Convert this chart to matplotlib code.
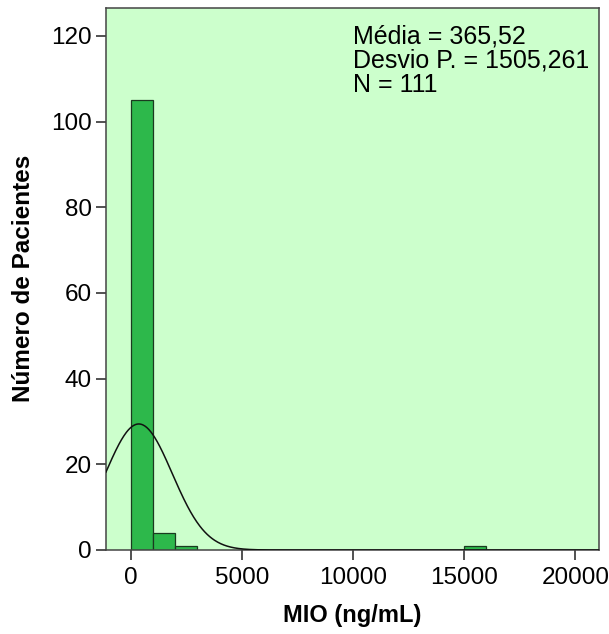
import numpy as np
import matplotlib
matplotlib.use("Agg")
import matplotlib.pyplot as plt

plt.rcParams['font.family'] = ['Liberation Sans', 'DejaVu Sans']

# Histogram bins (left edges, ng/mL) and patient counts
bin_lefts = [0, 1000, 2000, 15000]
bin_width = 1000
counts = [105, 4, 1, 1]

mean = 365.52
std = 1505.261
n = 111

x_ticks = [0, 5000, 10000, 15000, 20000]
y_ticks = [0, 20, 40, 60, 80, 100, 120]

fig = plt.figure(figsize=(6.09, 6.34), dpi=100)
ax = fig.add_axes([0.174, 0.1325, 0.81, 0.8555])
ax.set_facecolor('#ccffcc')

ax.bar(bin_lefts, counts, width=bin_width, align='edge',
       color='#2db84b', edgecolor='#1a3a1f', linewidth=0.9, zorder=2)

xlim = (-1110, 21070)
xs = np.linspace(xlim[0], xlim[1], 800)
pdf = n * bin_width / (std * np.sqrt(2 * np.pi)) * np.exp(-0.5 * ((xs - mean) / std) ** 2)
ax.plot(xs, pdf, color='#111111', linewidth=1.1, zorder=3)

ax.set_xlim(*xlim)
ax.set_ylim(0, 126.6)
ax.set_xticks(x_ticks)
ax.set_xticklabels([str(v) for v in x_ticks])
ax.set_yticks(y_ticks)
ax.tick_params(axis='y', direction='out', length=7, width=1.2,
               color='#333333', labelsize=17.5, pad=3)
ax.tick_params(axis='x', direction='out', length=7, width=1.2,
               color='#333333', labelsize=17.5, pad=5)
for s in ax.spines.values():
    s.set_color('#444444')
    s.set_linewidth(1.1)

ax.set_xlabel('MIO (ng/mL)', fontsize=17, fontweight='bold', labelpad=11)
ax.set_ylabel('Número de Pacientes', fontsize=17.5, fontweight='bold', labelpad=12)

ax.text(0.5, 0.968,
        'Média = 365,52\nDesvio P. = 1505,261\nN = 111',
        transform=ax.transAxes, ha='left', va='top', fontsize=18,
        linespacing=1.0)

fig.savefig('out.png', dpi=100)
